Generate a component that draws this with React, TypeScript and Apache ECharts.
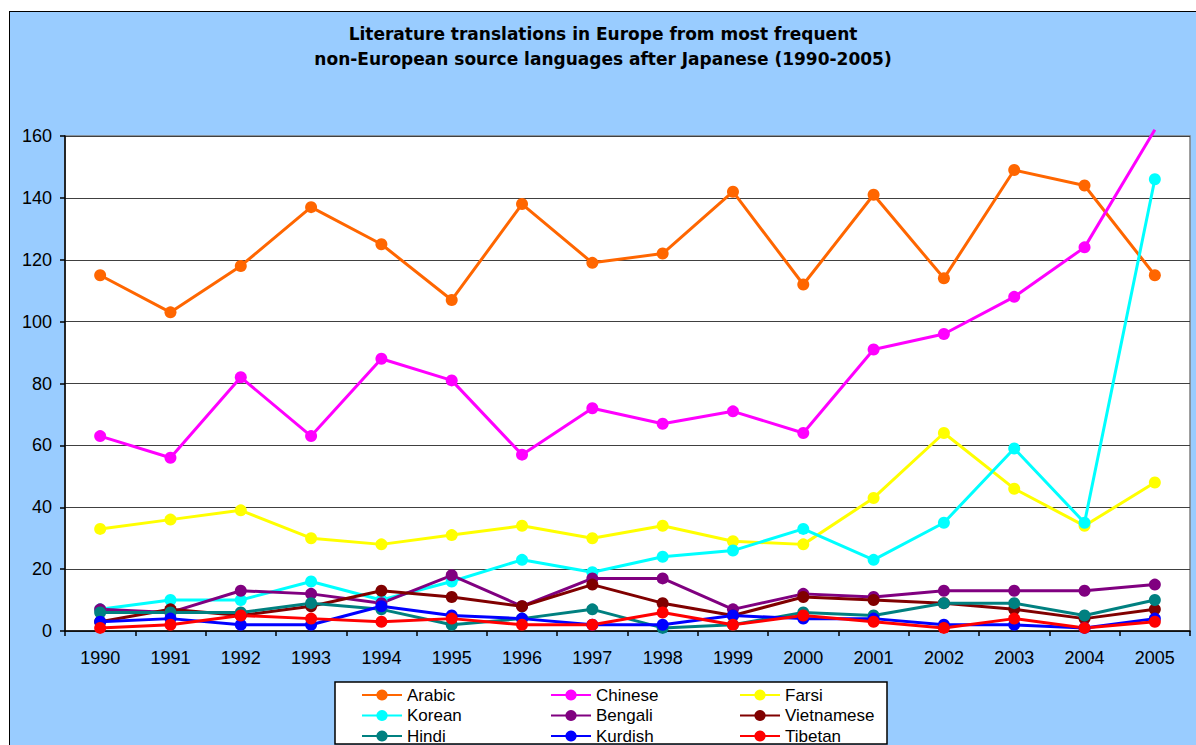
import React, { useEffect, useRef } from "react";
import * as echarts from "echarts";

const years = ["1990","1991","1992","1993","1994","1995","1996","1997","1998","1999","2000","2001","2002","2003","2004","2005"];
const arabic = [115,103,118,137,125,107,138,119,122,142,112,141,114,149,144,115];
const chinese = [63,56,82,63,88,81,57,72,67,71,64,91,96,108,124,162];
const farsi = [33,36,39,30,28,31,34,30,34,29,28,43,64,46,34,48];
const korean = [7,10,10,16,10,16,23,19,24,26,33,23,35,59,35,146];
const bengali = [7,6,13,12,9,18,8,17,17,7,12,11,13,13,13,15];
const vietnamese = [3,7,5,8,13,11,8,15,9,5,11,10,9,7,4,7];
const hindi = [6,6,6,9,7,2,4,7,1,2,6,5,9,9,5,10];
const kurdish = [3,4,2,2,8,5,4,2,2,5,4,4,2,2,1,4];
const tibetan = [1,2,5,4,3,4,2,2,6,2,5,3,1,4,1,3];
const yTicks = { min: 0, max: 160, interval: 20 };

const seriesDefs = [
  { name: "Arabic", data: arabic, color: "#FF6600" },
  { name: "Chinese", data: chinese, color: "#FF00FF" },
  { name: "Farsi", data: farsi, color: "#FFFF00" },
  { name: "Korean", data: korean, color: "#00FFFF" },
  { name: "Bengali", data: bengali, color: "#800080" },
  { name: "Vietnamese", data: vietnamese, color: "#800000" },
  { name: "Hindi", data: hindi, color: "#008080" },
  { name: "Kurdish", data: kurdish, color: "#0000FF" },
  { name: "Tibetan", data: tibetan, color: "#FF0000" },
];

const legendCols = [
  ["Arabic", "Korean", "Hindi"],
  ["Chinese", "Bengali", "Kurdish"],
  ["Farsi", "Vietnamese", "Tibetan"],
];
const legendLefts = [361, 550, 739];

const FONT = "'Liberation Sans', Arial, Helvetica, sans-serif";
const TITLE_FONT = "'DejaVu Sans', 'Liberation Sans', Arial, sans-serif";

export default function App() {
  const ref = useRef<HTMLDivElement>(null);
  useEffect(() => {
    if (!ref.current) return;
    const chart = echarts.init(ref.current, null, { renderer: "svg" });
    const option: any = {
      animation: false,
      backgroundColor: "transparent",
      textStyle: { fontFamily: FONT },
      title: {
        text: "Literature translations in Europe from most frequent\nnon-European source languages after Japanese (1990-2005)",
        left: 603,
        top: 21.5,
        padding: 0,
        textAlign: "center",
        textStyle: { fontFamily: TITLE_FONT, fontSize: 17, fontWeight: "bold", color: "#000", lineHeight: 25 },
      },
      grid: {
        left: 65,
        right: 6,
        top: 136,
        bottom: 114,
        show: true,
        backgroundColor: "#FFFFFF",
        borderColor: "#808080",
        borderWidth: 1.5,
      },
      xAxis: {
        type: "category",
        data: years,
        boundaryGap: true,
        axisLine: { show: true, lineStyle: { color: "#000", width: 1.5 } },
        axisTick: { show: true, inside: false, length: 5, alignWithLabel: false, lineStyle: { color: "#000", width: 1.5 } },
        axisLabel: { color: "#000", fontSize: 18, fontFamily: FONT, margin: 18, interval: 0 },
        splitLine: { show: false },
      },
      yAxis: {
        type: "value",
        min: yTicks.min,
        max: yTicks.max,
        interval: yTicks.interval,
        axisLine: { show: true, lineStyle: { color: "#000", width: 1.5 } },
        axisTick: { show: true, inside: false, length: 5, lineStyle: { color: "#000", width: 1.5 } },
        axisLabel: { color: "#000", fontSize: 18, fontFamily: FONT, margin: 13 },
        splitLine: { show: true, lineStyle: { color: "#404040", width: 1.2 } },
      },
      legend: legendCols.map((names, i) => ({
        orient: "vertical",
        left: legendLefts[i],
        top: 684.75,
        height: 80,
        padding: 0,
        itemWidth: 40,
        itemHeight: 14,
        itemGap: 0,
        data: names,
        textStyle: { color: "#000", fontSize: 17, fontFamily: FONT, lineHeight: 20.5 },
        selectedMode: false,
      })),
      graphic: [
        {
          type: "rect",
          shape: { x: 335, y: 682, width: 552, height: 62 },
          style: { fill: "#FFFFFF", stroke: "#000000", lineWidth: 1.5 },
          z: 0,
        },
      ],
      series: seriesDefs.map((s) => ({
        name: s.name,
        type: "line",
        clip: false,
        data: s.data.map((v) => (v > yTicks.max ? { value: v, symbol: "none" } : v)),
        symbol: "circle",
        symbolSize: 12,
        showSymbol: true,
        lineStyle: { color: s.color, width: 3 },
        itemStyle: { color: s.color },
        emphasis: { disabled: true },
      })),
    };
    chart.setOption(option);
    return () => chart.dispose();
  }, []);

  return (
    <div style={{ position: "fixed", left: 0, top: 0, width: 1196, height: 745, overflow: "hidden", background: "#FFFFFF" }}>
      <div
        style={{
          position: "absolute",
          left: 9,
          top: 11,
          width: 1200,
          height: 760,
          background: "#99CCFF",
          borderLeft: "1.5px solid #000",
          borderTop: "1.5px solid #000",
        }}
      />
      <div ref={ref} style={{ position: "absolute", left: 0, top: 0, width: 1196, height: 745 }} />
    </div>
  );
}
